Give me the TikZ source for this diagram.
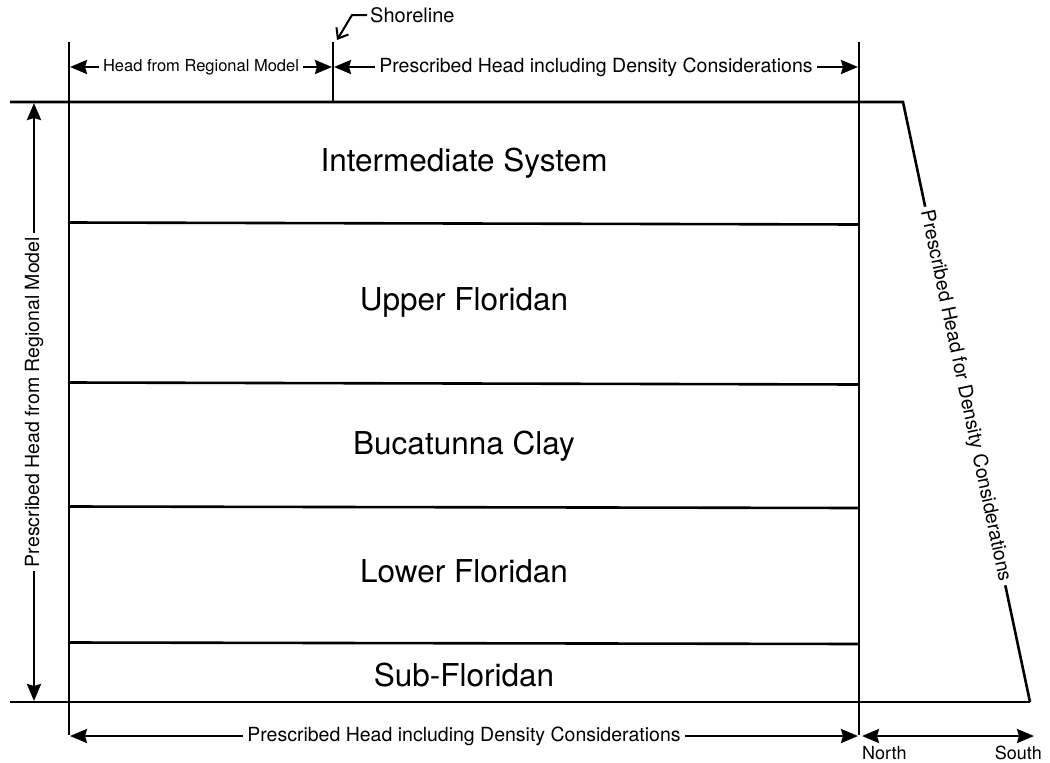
\documentclass[tikz,border=0pt]{standalone}
\usepackage{fontspec}
\setmainfont{TeX Gyre Heros}
\usetikzlibrary{arrows.meta}
\begin{document}
\begin{tikzpicture}[x=1pt,y=-1pt,
  frame/.style={line width=2.6pt},
  tipb/.tip={Stealth[length=17pt,width=14pt,inset=2pt]},
  dim/.style={line width=2.6pt, tipb-tipb},
  lab/.style={fill=white, inner sep=4pt, font=\fontsize{19.5}{22}\selectfont},
  smalllab/.style={fill=white, inner sep=4pt, font=\fontsize{16.5}{19}\selectfont},
  layer/.style={font=\fontsize{31.5}{36}\selectfont}
]
\useasboundingbox (0,0) rectangle (1050,763);
% geometry
\coordinate (LT) at (69,42);
\coordinate (LB) at (69,735);
\coordinate (RT) at (859,42);
\coordinate (RB) at (859,735);
\coordinate (ST) at (333,42);
\coordinate (SB) at (333,102);
\coordinate (TopL) at (10,102);
\coordinate (TopK) at (903,102);
\coordinate (BotR) at (1030,702);
\coordinate (BotL) at (10,702);
% frame lines
\draw[frame] (LT) -- (LB);
\draw[frame] (RT) -- (RB);
\draw[frame] (ST) -- (SB);
\draw[frame, line join=miter] (TopL) -- (TopK) -- (BotR);
\draw[frame] (BotL) -- (BotR);
\path (TopK) -- (BotR) node[pos=0.49, sloped, lab] (slant) {Prescribed Head for Density Considerations};
% layer boundaries
\coordinate (a1) at (69,222.5); \coordinate (a2) at (859,224.5);
\coordinate (b1) at (69,382.5); \coordinate (b2) at (859,384.5);
\coordinate (c1) at (69,506.5); \coordinate (c2) at (859,508);
\coordinate (d1) at (69,642.5); \coordinate (d2) at (859,644);
\draw[frame] (a1) -- (a2);
\draw[frame] (b1) -- (b2);
\draw[frame] (c1) -- (c2);
\draw[frame] (d1) -- (d2);
% layer labels
\node[layer] (l1) at (464,163) {Intermediate System};
\node[layer] (l2) at (464,302) {Upper Floridan};
\node[layer] (l3) at (464,446) {Bucatunna Clay};
\node[layer] (l4) at (464,571) {Lower Floridan};
\node[layer] (l5) at (464,675) {Sub-Floridan};
% top dimensions
\coordinate (t1) at (70,67);
\coordinate (t2) at (332,67);
\coordinate (t3) at (334,67);
\coordinate (t4) at (858,67);
\draw[dim] (t1) -- (t2) node[midway, smalllab] (hrm) {Head from Regional Model};
\draw[dim] (t3) -- (t4) node[midway, lab] (phd) {Prescribed Head including Density Considerations};
% shoreline
\node[anchor=west, inner sep=0pt, font=\fontsize{20}{22}\selectfont] (shore) at (370,15) {Shoreline};
\coordinate (sbend) at (352,15);
\coordinate (stip) at (337,40);
\draw[line width=2pt, -{Straight Barb[length=9pt,width=14pt,line width=2pt]}] (shore.west) ++(-3,0) -- (sbend) -- (stip);
% bottom dimensions
\coordinate (b1x) at (70,736);
\coordinate (b2x) at (858,736);
\draw[dim] (b1x) -- (b2x) node[midway, lab] (bot) {Prescribed Head including Density Considerations};
\coordinate (n1) at (862,736);
\coordinate (s1) at (1034,736);
\draw[dim] (n1) -- (s1);
\node[font=\fontsize{18}{20}\selectfont, anchor=west, inner sep=0pt] (north) at (862,753) {North};
\node[font=\fontsize{18}{20}\selectfont, anchor=east, inner sep=0pt] (south) at (1042,753) {South};
% left vertical dimension
\coordinate (v1) at (34,701);
\coordinate (v2) at (34,103);
\draw[dim] (v1) -- (v2) node[midway, rotate=90, lab] (vlab) {Prescribed Head from Regional Model};
\end{tikzpicture}
\end{document}
